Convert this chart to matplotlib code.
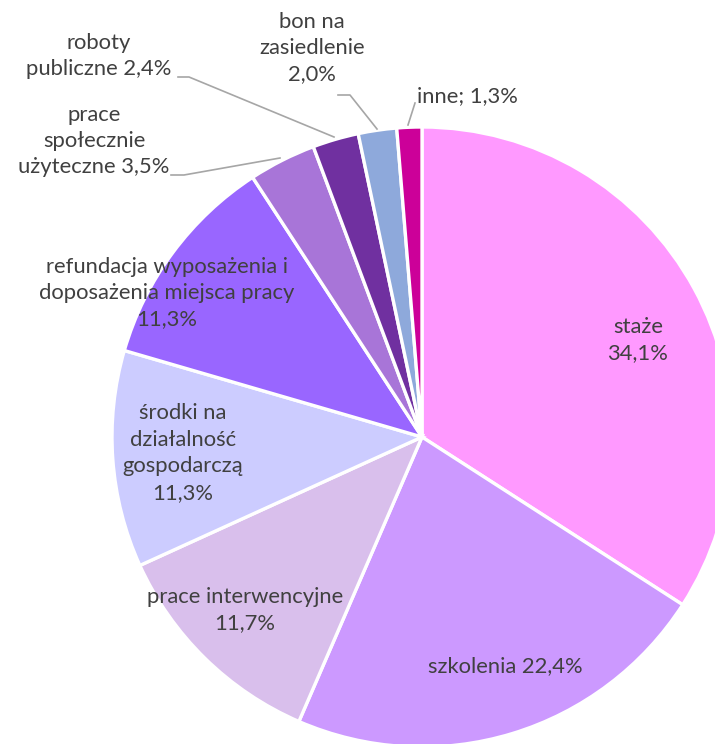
import numpy as np
import matplotlib.pyplot as plt

# data
labels = ['staże', 'szkolenia', 'prace interwencyjne', 'środki na działalność gospodarczą',
          'refundacja wyposażenia i doposażenia miejsca pracy', 'prace społecznie użyteczne',
          'roboty publiczne', 'bon na zasiedlenie', 'inne']
values = [34.1, 22.4, 11.7, 11.3, 11.3, 3.5, 2.4, 2.0, 1.3]
colors = ['#FF99FF', '#CC99FF', '#D9BFEC', '#CCCCFF', '#9966FF',
          '#A875D8', '#7030A0', '#8EA9DB', '#CC0099']
label_texts = ['staże\n34,1%', 'szkolenia 22,4%', 'prace interwencyjne\n11,7%',
               'środki na\ndziałalność\ngospodarczą\n11,3%',
               'refundacja wyposażenia i\ndoposażenia miejsca pracy\n11,3%',
               'prace\nspołecznie\nużyteczne 3,5%', 'roboty\npubliczne 2,4%',
               'bon na\nzasiedlenie\n2,0%', 'inne; 1,3%']

W, H = 715, 744
fig = plt.figure(figsize=(W / 100, H / 100), dpi=100)
ax = fig.add_axes([0, 0, 1, 1])

def py(y):
    # pixel row -> data y
    return H - y

cx, cy, r = 422, 437, 310
ax.pie(values, colors=colors, startangle=90, counterclock=False,
       center=(cx, py(cy)), radius=r, frame=True,
       wedgeprops=dict(edgecolor='white', linewidth=2.4))
ax.set_xlim(0, W)
ax.set_ylim(0, H)
ax.set_aspect('equal')
ax.axis('off')

# label positions (pixel coords)
label_pos = [(638, 340), (505, 666), (245, 610), (183, 453), (167, 293),
             (94, 141), (99, 56), (312, 48), (467, 96)]
for txt, (x, y) in zip(label_texts, label_pos):
    ax.text(x, py(y), txt, ha='center', va='center', fontsize=15.8,
            family='Lato', color='#404040', linespacing=1.4)

# leader lines
leaders = [
    [(178, 77), (189, 77), (334, 137)],
    [(171, 175), (184, 175), (280, 158)],
    [(338, 95), (350, 95), (377, 129)],
    [(415, 103), (408, 125)],
]
for pts in leaders:
    xs = [p[0] for p in pts]
    ys = [py(p[1]) for p in pts]
    ax.plot(xs, ys, color='#A6A6A6', linewidth=1.2)

fig.savefig('out.png', dpi=100)
